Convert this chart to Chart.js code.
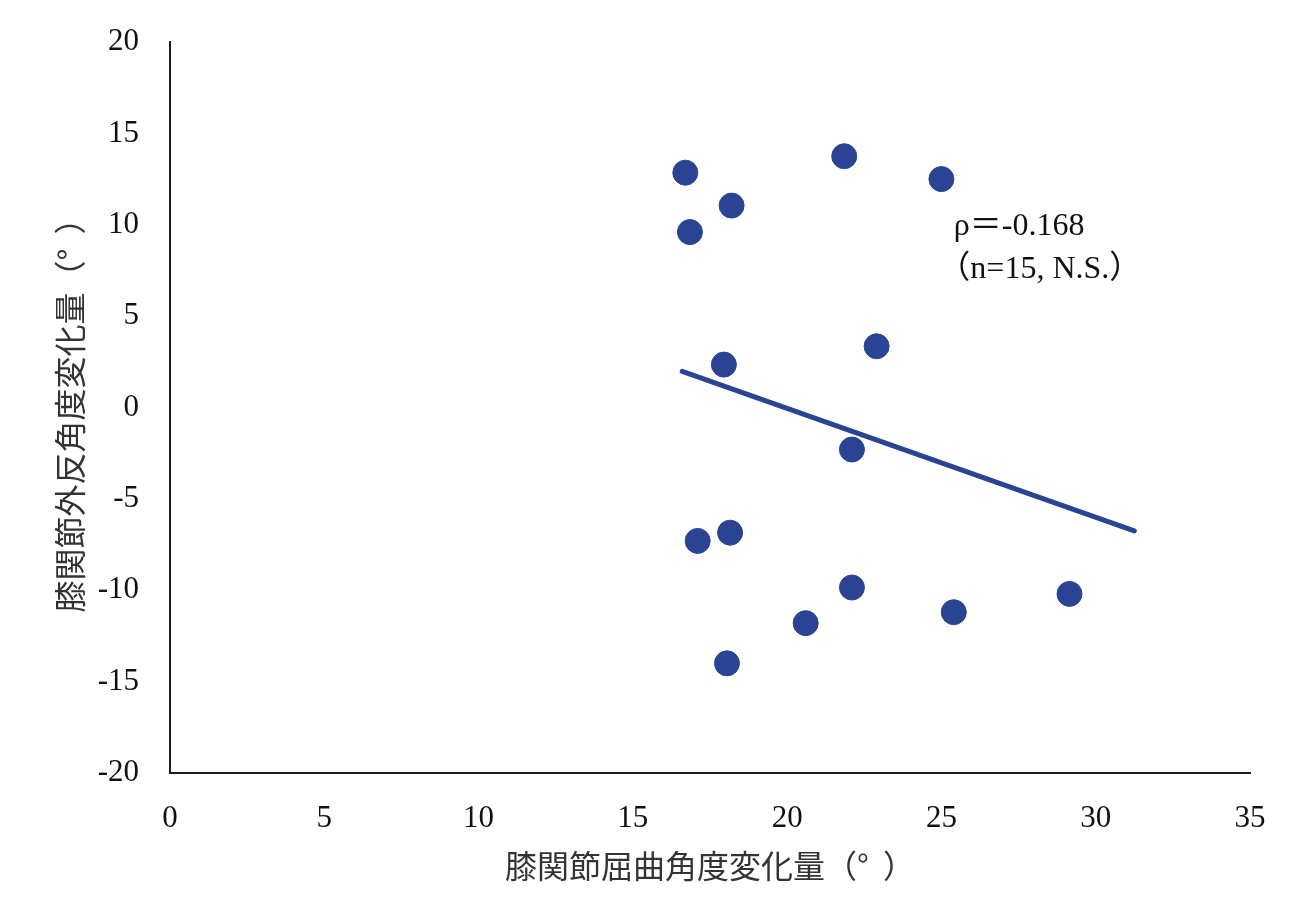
<!DOCTYPE html>
<html>
<head>
<meta charset="utf-8">
<script src="https://cdn.jsdelivr.net/npm/chart.js@4/dist/chart.umd.min.js"></script>
<style>
  html, body { margin: 0; padding: 0; background: #fff; }
  #wrap { width: 1292px; height: 922px; }
</style>
</head>
<body>
<div id="wrap"><canvas id="c" width="1292" height="922"></canvas></div>
<script>
// Knee flexion change (x) vs knee valgus change (y), degrees
const flexionChange = [16.7, 16.85, 18.2, 21.85, 25.0, 22.9, 17.95, 22.1, 17.1, 18.15, 22.1, 20.6, 18.05, 25.4, 29.15];
const valgusChange  = [12.85, 9.6, 11.05, 13.75, 12.5, 3.35, 2.35, -2.3, -7.3, -6.85, -9.85, -11.8, -14.0, -11.2, -10.2];

// Regression line end points
const trendX = [16.6, 31.25];
const trendY = [1.98, -6.75];

// Axis tick labels
const xTickLabels = ['0', '5', '10', '15', '20', '25', '30', '35'];
const yTickLabels = ['-20', '-15', '-10', '-5', '0', '5', '10', '15', '20'];

const statLines = ['ρ＝-0.168', '（n=15, N.S.）'];

const xTitle = '膝関節屈曲角度変化量（°  ）';
const yTitle = '膝関節外反角度変化量（°  ）';

const navy = '#2a4393';
const tickFont = { family: '"Liberation Serif", "DejaVu Serif", serif', size: 31 };
const titleFont = { family: '"Noto Sans CJK JP", sans-serif', size: 32 };

const statsText = {
  id: 'statsText',
  afterDatasetsDraw(chart) {
    const { ctx, scales: { x, y } } = chart;
    ctx.save();
    ctx.fillStyle = '#111';
    ctx.font = '32px "Liberation Serif", "Noto Sans CJK JP", serif';
    ctx.textBaseline = 'middle';
    ctx.textAlign = 'left';
    ctx.fillText(statLines[0], x.getPixelForValue(25.4), y.getPixelForValue(9.9));
    ctx.fillText(statLines[1], x.getPixelForValue(24.9), y.getPixelForValue(7.55));
    ctx.restore();
  }
};

new Chart(document.getElementById('c'), {
  type: 'scatter',
  data: {
    datasets: [
      {
        type: 'line',
        data: trendX.map((v, i) => ({ x: v, y: trendY[i] })),
        borderColor: navy,
        borderWidth: 5,
        borderCapStyle: 'round',
        pointRadius: 0,
        fill: false
      },
      {
        data: flexionChange.map((v, i) => ({ x: v, y: valgusChange[i] })),
        backgroundColor: navy,
        borderColor: navy,
        borderWidth: 1,
        pointRadius: 12.5,
        pointHoverRadius: 12.5
      }
    ]
  },
  plugins: [statsText],
  options: {
    responsive: false,
    animation: false,
    events: [],
    layout: { padding: { top: 42, right: 42, bottom: 0, left: 0 } },
    plugins: { legend: { display: false }, tooltip: { enabled: false } },
    scales: {
      x: {
        type: 'linear',
        min: 0, max: 35,
        afterFit(s) { s.height = 149; s.paddingLeft = 0; s.paddingRight = 0; },
        grid: { display: false, drawTicks: false },
        border: { display: true, color: '#1e1e1e', width: 2 },
        ticks: {
          stepSize: 5,
          padding: 27,
          color: '#111',
          font: tickFont,
          callback: (v) => xTickLabels[v / 5]
        },
        title: {
          display: true,
          text: xTitle,
          color: '#333',
          font: titleFont,
          padding: { top: 0, bottom: 37 }
        }
      },
      y: {
        type: 'linear',
        min: -20, max: 20,
        afterFit(s) { s.width = 170; s.paddingTop = 0; s.paddingBottom = 0; },
        grid: { display: false, drawTicks: false },
        border: { display: true, color: '#1e1e1e', width: 2 },
        ticks: {
          stepSize: 5,
          padding: 31,
          color: '#111',
          font: tickFont,
          callback: (v) => yTickLabels[(v + 20) / 5]
        },
        title: {
          display: true,
          text: yTitle,
          color: '#333',
          font: titleFont,
          padding: { top: 51, bottom: 0 }
        }
      }
    }
  }
});
</script>
</body>
</html>
